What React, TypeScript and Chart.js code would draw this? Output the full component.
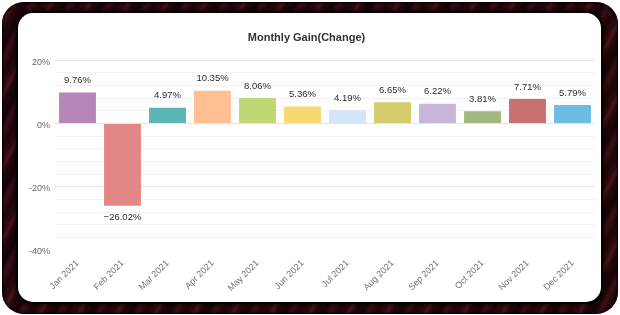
import { useEffect, useRef } from "react";
import { Chart, registerables } from "chart.js";

Chart.register(...registerables);

// Monthly gain per month of 2021, in percent
const months = [
  "Jan 2021", "Feb 2021", "Mar 2021", "Apr 2021", "May 2021", "Jun 2021",
  "Jul 2021", "Aug 2021", "Sep 2021", "Oct 2021", "Nov 2021", "Dec 2021",
];
const gains = [9.76, -26.02, 4.97, 10.35, 8.06, 5.36, 4.19, 6.65, 6.22, 3.81, 7.71, 5.79];
const barColors = [
  "#b687b6", "#e28686", "#5bb5b3", "#ffbf93", "#bfd873", "#f7d872",
  "#d3e6f8", "#d4cb6b", "#c7b6da", "#a1b87f", "#c97072", "#6bbde6",
];

// y axis: minor grid every 4%, labelled every 20%
const yMin = -40;
const yMax = 20;
const yStep = 4;
const yLabelStep = 20;

const FONT = "'Liberation Sans', Arial, Helvetica, sans-serif";

function formatGain(v: number) {
  return (v < 0 ? "\u2212" : "") + Math.abs(v).toFixed(2) + "%";
}

// Writes each bar's value above (or below, for losses) the bar
const valueLabels = {
  id: "valueLabels",
  afterDatasetsDraw(chart: any) {
    const ctx = chart.ctx;
    const meta = chart.getDatasetMeta(0);
    ctx.save();
    ctx.font = `9.5px ${FONT}`;
    ctx.fillStyle = "#2b2b2b";
    ctx.textAlign = "center";
    ctx.textBaseline = "middle";
    meta.data.forEach((bar: any, i: number) => {
      const v = gains[i];
      const y = v >= 0 ? bar.y - 12 : bar.y + 12;
      ctx.fillText(formatGain(v), bar.x, y);
    });
    ctx.restore();
  },
};

function GainChart() {
  const canvasRef = useRef<HTMLCanvasElement | null>(null);

  useEffect(() => {
    if (!canvasRef.current) return;
    const chart = new Chart(canvasRef.current, {
      type: "bar",
      data: {
        labels: months,
        datasets: [
          {
            data: gains,
            backgroundColor: barColors,
            borderWidth: 0,
            barPercentage: 0.82,
            categoryPercentage: 1,
          },
        ],
      },
      options: {
        animation: false,
        responsive: true,
        maintainAspectRatio: false,
        layout: { padding: { top: 0, right: 6, bottom: 0, left: 0 } },
        plugins: {
          legend: { display: false },
          tooltip: { enabled: false },
          title: {
            display: true,
            text: "Monthly Gain(Change)",
            color: "#333333",
            font: { family: FONT, size: 11, weight: "bold", lineHeight: 1.2 },
            padding: { top: 18.4, bottom: 15.5 },
          },
        },
        scales: {
          x: {
            grid: { display: false },
            border: { display: false },
            ticks: {
              color: "#707070",
              font: { family: FONT, size: 9 },
              minRotation: 45,
              maxRotation: 45,
              autoSkip: false,
              padding: 0,
            },
            afterFit(scale: any) {
              scale.height = 52;
            },
          },
          y: {
            min: yMin,
            max: yMax,
            border: { display: false },
            grid: {
              drawTicks: false,
              lineWidth: 1,
              color: (ctx: any) => {
                const v = ctx.tick ? ctx.tick.value : 0;
                if (v === yMin) return "rgba(0,0,0,0)";
                return v % yLabelStep === 0 ? "#e4e4e4" : "#f2f2f2";
              },
            },
            ticks: {
              stepSize: yStep,
              color: "#666666",
              font: { family: FONT, size: 9 },
              padding: 5,
              labelOffset: 2,
              autoSkip: false,
              callback: (value: any) =>
                Number(value) % yLabelStep === 0 ? `${value}%` : "",
            },
            afterFit(scale: any) {
              scale.width = 37;
            },
          },
        },
      },
      plugins: [valueLabels],
    });
    return () => chart.destroy();
  }, []);

  return <canvas ref={canvasRef} />;
}

export default function App() {
  return (
    <div
      style={{
        position: "fixed",
        left: 0,
        top: 0,
        width: 620,
        height: 315,
        background: "#ffffff",
        overflow: "hidden",
      }}
    >
      {/* dark lacquered frame */}
      <div
        style={{
          position: "absolute",
          left: 2,
          top: 2,
          width: 616,
          height: 312,
          borderRadius: 22,
          background:
            "repeating-linear-gradient(118deg, #1e0508 0px, #2e0a10 7px, #4a1520 10px, #24070b 14px, #160305 22px, #3a0f18 27px, #1e0508 34px)",
          boxShadow: "inset 0 0 3px 1px rgba(0,0,0,0.95)",
        }}
      />
      {/* white panel holding the chart */}
      <div
        style={{
          position: "absolute",
          left: 18,
          top: 13,
          width: 583,
          height: 289,
          borderRadius: 15,
          background: "#ffffff",
          boxShadow: "0 0 0 2px #080102, 0 0 4px 3px rgba(0,0,0,0.75)",
          overflow: "hidden",
        }}
      >
        <div style={{ position: "absolute", left: 0, top: 0, width: 583, height: 289 }}>
          <GainChart />
        </div>
      </div>
    </div>
  );
}
